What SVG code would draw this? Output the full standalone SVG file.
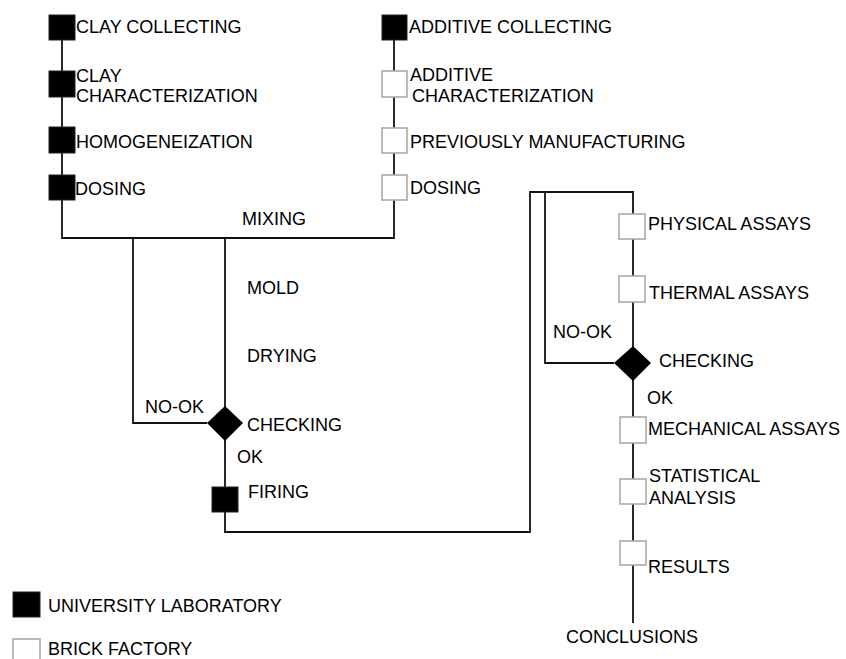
<svg xmlns="http://www.w3.org/2000/svg" width="846" height="659" viewBox="0 0 846 659">
<style>
text{font-family:"Liberation Sans",Arial,sans-serif;font-size:18px;fill:#000}
.ln{fill:none;stroke:#111;stroke-width:1.8}
.lab{fill:#000;stroke:#222;stroke-width:1}
.fac{fill:#fff;stroke:#aaa;stroke-width:1.6}
.dia{fill:#000}
</style>
<rect width="846" height="659" fill="#fff"/>
<g id="connectors">
<path class="ln" d="M62 40V238H394V40"/>
<path class="ln" d="M133 238V423H207"/>
<path class="ln" d="M225 238V532H530V192H633V623"/>
<path class="ln" d="M545 192V363H614"/>
</g>
<g id="clay-collecting"><rect class="lab" x="49" y="15" width="26" height="25"/><text x="76" y="33">CLAY COLLECTING</text></g>
<g id="clay-characterization"><rect class="lab" x="49" y="71" width="26" height="26"/><text x="76" y="82">CLAY</text><text x="76" y="102">CHARACTERIZATION</text></g>
<g id="homogeneization"><rect class="lab" x="49" y="127" width="26" height="26"/><text x="76" y="148">HOMOGENEIZATION</text></g>
<g id="clay-dosing"><rect class="lab" x="49" y="175" width="26" height="25"/><text x="75" y="195">DOSING</text></g>
<g id="additive-collecting"><rect class="lab" x="382" y="15" width="25" height="25"/><text x="409" y="33">ADDITIVE COLLECTING</text></g>
<g id="additive-characterization"><rect class="fac" x="382" y="71" width="25" height="26"/><text x="410" y="81">ADDITIVE</text><text x="412" y="102">CHARACTERIZATION</text></g>
<g id="previously-manufacturing"><rect class="fac" x="382" y="128" width="25" height="25"/><text x="410" y="148">PREVIOUSLY MANUFACTURING</text></g>
<g id="additive-dosing"><rect class="fac" x="382" y="175" width="25" height="25"/><text x="410" y="194">DOSING</text></g>
<g id="mixing"><text x="242" y="225">MIXING</text></g>
<g id="mold"><text x="247" y="294">MOLD</text></g>
<g id="drying"><text x="247" y="362">DRYING</text></g>
<g id="checking-1"><polygon class="dia" points="225,406 243,423 225,441 207,423"/><text x="247" y="431">CHECKING</text><text x="145" y="413">NO-OK</text><text x="237" y="463">OK</text></g>
<g id="firing"><rect class="lab" x="212" y="487" width="26" height="25"/><text x="248" y="498">FIRING</text></g>
<g id="physical-assays"><rect class="fac" x="619" y="214" width="26" height="25"/><text x="648" y="230">PHYSICAL ASSAYS</text></g>
<g id="thermal-assays"><rect class="fac" x="619" y="276" width="26" height="26"/><text x="649" y="299">THERMAL ASSAYS</text></g>
<g id="checking-2"><polygon class="dia" points="633,346 651,363 633,381 614,363"/><text x="659" y="367">CHECKING</text><text x="553" y="338">NO-OK</text><text x="647" y="404">OK</text></g>
<g id="mechanical-assays"><rect class="fac" x="620" y="417" width="26" height="26"/><text x="648" y="435">MECHANICAL ASSAYS</text></g>
<g id="statistical-analysis"><rect class="fac" x="620" y="479" width="26" height="25"/><text x="649" y="482">STATISTICAL</text><text x="649" y="504">ANALYSIS</text></g>
<g id="results"><rect class="fac" x="620" y="541" width="26" height="24"/><text x="648" y="573">RESULTS</text></g>
<g id="conclusions"><text x="566" y="643">CONCLUSIONS</text></g>
<g id="legend">
<rect class="lab" x="13" y="592" width="27" height="25"/><text x="48" y="612">UNIVERSITY LABORATORY</text>
<rect class="fac" x="13" y="639" width="27" height="25"/><text x="48" y="655">BRICK FACTORY</text>
</g>
</svg>
